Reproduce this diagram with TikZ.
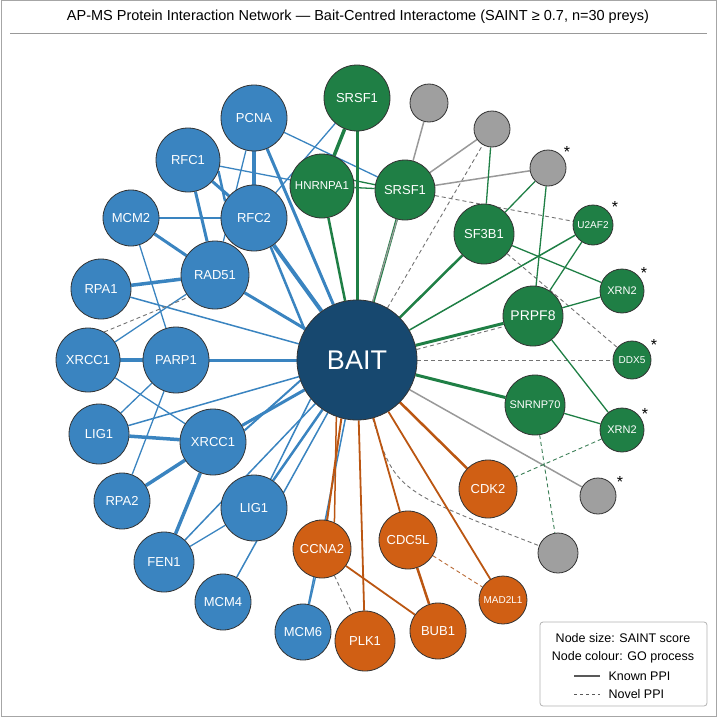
\documentclass[tikz,border=0pt]{standalone}
\usepackage{fontspec}
\setmainfont{Liberation Sans}
\usetikzlibrary{backgrounds}
\begin{document}
\begin{tikzpicture}[x=1pt,y=-1pt,
 nd/.style={circle,draw=black!80,line width=0.8pt,inner sep=0pt,text=white,font=\fontsize{13}{13}\selectfont},
 bl/.style={nd,fill=blue1}, gr/.style={nd,fill=green1}, og/.style={nd,fill=orange1}, gy/.style={nd,fill=gray!75},
 be/.style={draw=blue1,line width=#1}, be/.default=1.3pt,
 ge/.style={draw=green1,line width=#1}, ge/.default=1.3pt,
 oe/.style={draw=orange1!90!black,line width=#1}, oe/.default=1.8pt,
 ye/.style={draw=gray!80,line width=#1}, ye/.default=1.5pt,
 dsh/.style={draw=gray!90!black,line width=0.9pt,dash pattern=on 4pt off 3pt},
 gdsh/.style={draw=green1!70!gray,line width=0.9pt,dash pattern=on 4pt off 3pt},
 lg/.style={font=\fontsize{12.5}{12.5}\selectfont},
 ast/.style={font=\fontsize{16}{16}\selectfont}]
\definecolor{blue1}{HTML}{3A84C0}
\definecolor{green1}{HTML}{1F7F45}
\definecolor{orange1}{HTML}{D05F14}
\definecolor{bait}{HTML}{17486F}
\useasboundingbox (0,0) rectangle (717,717);
\draw[gray!70,line width=1pt] (1,1) rectangle (716,716);
\node (title) at (358,17) {\fontsize{14.5}{14.5}\selectfont AP-MS Protein Interaction Network — Bait-Centred Interactome (SAINT ≥ 0.7, n=30 preys)};
\coordinate (ta) at (10,33); \coordinate (tb) at (707,33);
\draw[gray!80,line width=0.7pt] (ta) -- (tb);
% nodes
\node[nd,fill=bait,minimum size=120pt,font=\fontsize{27}{27}\selectfont] (B) at (357,360) {BAIT};
\node[bl,minimum size=66pt] (PCNA) at (254,118) {PCNA};
\node[bl,minimum size=64pt] (RFC1) at (188,160) {RFC1};
\node[bl,minimum size=66pt] (RFC2) at (254,218) {RFC2};
\node[bl,minimum size=56pt] (MCM2) at (131,218) {MCM2};
\node[bl,minimum size=68pt] (RAD51) at (215,275) {RAD51};
\node[bl,minimum size=60pt] (RPA1) at (101,289) {RPA1};
\node[bl,minimum size=64pt] (XRCC1a) at (88,360) {XRCC1};
\node[bl,minimum size=66pt] (PARP1) at (176,360) {PARP1};
\node[bl,minimum size=60pt] (LIG1a) at (99,434) {LIG1};
\node[bl,minimum size=66pt] (XRCC1b) at (213,442) {XRCC1};
\node[bl,minimum size=56pt] (RPA2) at (122,501) {RPA2};
\node[bl,minimum size=66pt] (LIG1b) at (254,508) {LIG1};
\node[bl,minimum size=60pt] (FEN1) at (164,562) {FEN1};
\node[bl,minimum size=56pt] (MCM4) at (223,602) {MCM4};
\node[bl,minimum size=56pt] (MCM6) at (303,632) {MCM6};
\node[gr,minimum size=66pt] (SRSF1a) at (357,98) {SRSF1};
\node[gr,minimum size=64pt,font=\fontsize{11.5}{11.5}\selectfont] (HNR) at (322,186) {HNRNPA1};
\node[gr,minimum size=60pt] (SRSF1b) at (405,190) {SRSF1};
\node[gr,minimum size=60pt] (SF3B1) at (484,234) {SF3B1};
\node[gr,minimum size=40pt,font=\fontsize{10}{10}\selectfont] (U2AF2) at (593,225) {U2AF2};
\node[gr,minimum size=44pt,font=\fontsize{11}{11}\selectfont] (XRN2a) at (622,291) {XRN2};
\node[gr,minimum size=60pt,font=\fontsize{14}{14}\selectfont] (PRPF8) at (533,316) {PRPF8};
\node[gr,minimum size=38pt,font=\fontsize{10}{10}\selectfont] (DDX5) at (632,360) {DDX5};
\node[gr,minimum size=60pt,font=\fontsize{11}{11}\selectfont] (SNR) at (535,405) {SNRNP70};
\node[gr,minimum size=44pt,font=\fontsize{11}{11}\selectfont] (XRN2b) at (622,430) {XRN2};
\node[gy,minimum size=38pt] (g1) at (429,103) {};
\node[gy,minimum size=36pt] (g2) at (492,129) {};
\node[gy,minimum size=36pt] (g3) at (548,168) {};
\node[gy,minimum size=36pt] (g4) at (598,496) {};
\node[gy,minimum size=40pt] (g5) at (558,553) {};
\node[og,minimum size=58pt] (CDK2) at (488,489) {CDK2};
\node[og,minimum size=58pt] (CCNA2) at (322,549) {CCNA2};
\node[og,minimum size=58pt] (CDC5L) at (408,540) {CDC5L};
\node[og,minimum size=48pt,font=\fontsize{10}{10}\selectfont] (MAD) at (503,600) {MAD2L1};
\node[og,minimum size=60pt] (PLK1) at (365,641) {PLK1};
\node[og,minimum size=56pt] (BUB1) at (438,631) {BUB1};
\node[ast] (a1) at (567,152) {*};
\node[ast] (a2) at (615,207) {*};
\node[ast] (a3) at (644,273) {*};
\node[ast] (a4) at (654,345) {*};
\node[ast] (a5) at (645,414) {*};
\node[ast] (a6) at (620,482) {*};
% legend
\node[draw=gray!60,rounded corners=3pt,line width=0.8pt,fill=white,minimum width=167pt,minimum height=84pt] (leg) at (623.5,664) {};
\node[lg] (l1) at (623,638) {Node size: SAINT score};
\node[lg] (l2) at (623,657) {Node colour: GO process};
\node[lg,anchor=west] (l3) at (605,676) {Known PPI};
\node[lg,anchor=west] (l4) at (605,694) {Novel PPI};
\coordinate (k1) at (574,676); \coordinate (k2) at (600,676);
\coordinate (n1) at (574,694); \coordinate (n2) at (600,694);
\draw[gray!70!black,line width=1.4pt] (k1) -- (k2);
\draw[gray!70!black,line width=0.9pt,dash pattern=on 3pt off 3pt] (n1) -- (n2);
% edges
\begin{scope}[on background layer]
\draw[be=4pt] (B) -- (RFC2);
\draw[be=3pt] (B) -- (PCNA);
\draw[be=2.5pt] (B.150) -- (RFC2.300);
\draw[be=3pt] (B) -- (RAD51);
\draw[be=1.5pt] (B) -- (RPA1);
\draw[be=3pt] (B) -- (PARP1);
\draw[be=1.5pt] (B) -- (LIG1a);
\draw[be=3pt] (B) -- (XRCC1b);
\draw[be=2pt] (B.200) -- (XRCC1b.20);
\draw[be=2.5pt] (B) -- (LIG1b);
\draw[be=1.5pt] (B.220) -- (LIG1b.60);
\draw[be=1.5pt] (B) -- (FEN1);
\draw[be=1.5pt] (B) -- (MCM4);
\draw[be=1.5pt] (B) -- (MCM6);
\draw[be=1.5pt] (B) -- (XRCC1a);
\draw[be=3.5pt] (PCNA) -- (RFC2);
\draw[be=1.3pt] (PCNA) -- (RAD51);
\draw[be=1.3pt] (PCNA) -- (SRSF1b);
\draw[be=3pt] (RFC1) -- (RFC2);
\draw[be=2.5pt] (RFC1.340) -- (RFC2.150);
\draw[be=1.3pt] (RFC1) -- (HNR);
\draw[be=3pt] (RFC1) -- (RAD51);
\draw[be=1.3pt] (RFC2) -- (SRSF1a);
\draw[be=1.3pt] (MCM2) -- (RFC2);
\draw[be=3pt] (MCM2) -- (RAD51);
\draw[be=1.3pt] (MCM2) -- (PARP1);
\draw[be=3.5pt] (RPA1) -- (RAD51);
\draw[be=1.3pt] (XRCC1a) -- (RAD51);
\draw[dsh] (XRCC1a.60) -- (RAD51.220);
\draw[be=3.5pt] (XRCC1a) -- (PARP1);
\draw[be=1.3pt] (XRCC1a) -- (XRCC1b);
\draw[be=1.3pt] (PARP1) -- (LIG1a);
\draw[be=1.3pt] (PARP1) -- (RPA2);
\draw[be=3.5pt] (LIG1a) -- (XRCC1b);
\draw[be=3.5pt] (RPA2) -- (XRCC1b);
\draw[be=3.5pt] (XRCC1b) -- (FEN1);
\draw[be=1.3pt] (FEN1) -- (LIG1b);
\draw[be=1.3pt] (MCM6) -- (CCNA2);
\draw[ge=3pt] (B) -- (SRSF1a);
\draw[ge=2.5pt] (B) -- (HNR);
\draw[ge=2.5pt] (B) -- (SRSF1b);
\draw[ye=1.3pt] (B.75) -- (SRSF1b.255);
\draw[ge=2.5pt] (B) -- (SF3B1);
\draw[ge=1.5pt] (B) -- (U2AF2);
\draw[ge=3pt] (B) -- (PRPF8);
\draw[dsh] (B.10) -- (PRPF8.200);
\draw[dsh] (B) -- (DDX5);
\draw[ge=3pt] (B) -- (SNR);
\draw[ye] (B) -- (g4);
\draw[dsh] (B) -- (g2);
\draw[dsh] (B.285) .. controls (395,490) .. (g5);
\draw[ge=3.5pt] (SRSF1a) -- (HNR);
\draw[ge=1.3pt] (HNR) -- (SRSF1b);
\draw[ge=1.3pt] (HNR.10) -- (SRSF1b.170);
\draw[ye] (SRSF1b) -- (g1);
\draw[ye] (SRSF1b) -- (g2);
\draw[ye] (SRSF1b) -- (g3);
\draw[dsh] (SRSF1b) -- (U2AF2);
\draw[ge=1.3pt] (SF3B1) -- (g2);
\draw[ge=1.3pt] (SF3B1) -- (g3);
\draw[ge=1.3pt] (SF3B1) -- (XRN2a);
\draw[dsh] (SF3B1) -- (DDX5);
\draw[ge=1.3pt] (PRPF8) -- (U2AF2);
\draw[ge=1.3pt] (PRPF8) -- (XRN2a);
\draw[ge=1.3pt] (PRPF8) -- (g3);
\draw[ge=1.3pt] (PRPF8) -- (XRN2b);
\draw[ge=1.3pt] (SNR) -- (XRN2b);
\draw[gdsh] (SNR) -- (g5);
\draw[gdsh] (XRN2b) -- (CDK2);
\draw[oe=2pt] (B.255) -- (CCNA2.80);
\draw[oe=1.5pt] (B.250) -- (CCNA2.65);
\draw[oe] (B) -- (PLK1);
\draw[oe] (B) -- (CDC5L);
\draw[oe] (B) -- (MAD);
\draw[oe=2.5pt] (B) -- (CDK2);
\draw[dsh] (CCNA2) -- (PLK1);
\draw[oe] (CCNA2) -- (BUB1);
\draw[oe=2.5pt] (CDC5L) -- (BUB1);
\draw[dsh,draw=orange1!70!gray] (CDC5L) -- (MAD);
\end{scope}
\end{tikzpicture}
\end{document}
